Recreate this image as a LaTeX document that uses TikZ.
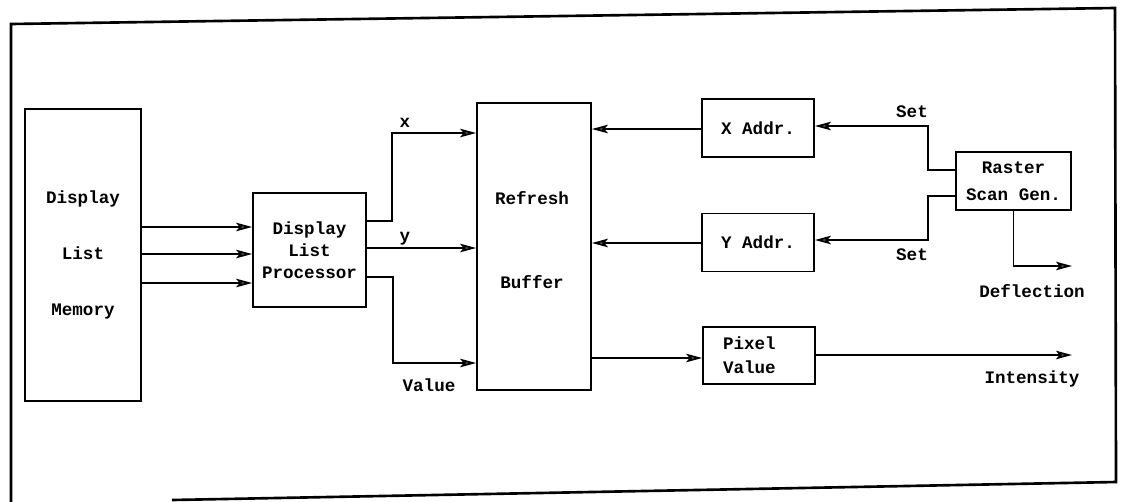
\documentclass[tikz,border=0pt]{standalone}
\usepackage{fontspec}
\setmainfont{Liberation Mono}
\usetikzlibrary{arrows.meta,positioning,calc}

\begin{document}
\begin{tikzpicture}[x=0.02cm, y=-0.02cm, line width=1pt,
    blk/.style={draw, inner sep=0pt, align=center, font=\bfseries\fontsize{10}{12}\selectfont},
    lbl/.style={inner sep=0pt, align=center, font=\bfseries\fontsize{10}{12}\selectfont},
    arr/.style={-{Stealth[length=3.2mm,width=1.7mm,inset=0.7mm,fill=black!60]}}]

    \useasboundingbox (0,0) rectangle (1128,501);

    % --- outer frame (the scan is a little tilted) ---
    \draw[line width=1.5pt] (11,506) -- (11,24) -- (1115,8) -- (1116,482) -- (172,500);

    % --- blocks ---
    \node[blk, minimum width=2.32cm, minimum height=5.84cm] (mem) at (83,255) {Display\\[20pt]List\\[20pt]Memory};
    \node[blk, minimum width=2.26cm, minimum height=2.28cm] (dlp) at (309.5,250) {Display\\[0.5pt]List\\[0.5pt]Processor};
    \node[blk, minimum width=2.28cm, minimum height=5.74cm] (rb) at (534,246.5) {};
    \node[lbl] (rbtxt) at (532,240) {Refresh\\[36pt]Buffer};
    \node[blk, minimum width=2.24cm, minimum height=1.16cm] (xa) at (758,128) {X Addr.};
    \node[blk, minimum width=2.24cm, minimum height=1.16cm] (ya) at (758,242.5) {Y Addr.};
    \node[blk, minimum width=2.24cm, minimum height=1.14cm, align=left, text width=1.44cm] (pv) at (759,355.5) {Pixel\\[1.5pt]Value};
    \node[blk, minimum width=2.3cm, minimum height=1.16cm] (rsg) at (1013.5,181) {Raster\\[3.5pt]Scan Gen.};

    % --- free ends ---
    \coordinate (defl) at (1072,266);
    \coordinate (inten) at (1072,355);

    % --- memory to processor ---
    \foreach \yy in {227,254,283}
        \draw[arr] (mem.east |- 0,\yy) -- (dlp.west |- 0,\yy);

    % --- processor to buffer ---
    \draw[arr] (dlp.east |- 0,221) -| (392,133) -- (rb.west |- 0,133);
    \draw[arr] (dlp.east |- 0,248) -- (rb.west |- 0,248);
    \draw[arr] (dlp.east |- 0,277) -| (393,363) -- (rb.west |- 0,363);

    % --- addresses and pixel value ---
    \draw[arr] (xa.west |- 0,129) -- (rb.east |- 0,129);
    \draw[arr] (ya.west |- 0,243) -- (rb.east |- 0,243);
    \draw[arr] (rb.east |- 0,358) -- (pv.west |- 0,358);

    % --- scan generator ---
    \draw[arr] (rsg.west |- 0,170) -| (928,126) -- (xa.east |- 0,126);
    \draw[arr] (rsg.west |- 0,196) -| (928,240) -- (ya.east |- 0,240);
    \draw[arr] (rsg.south) |- (defl);
    \draw[arr] (pv.east |- inten) -- (inten);

    % --- labels ---
    \node[lbl] (lx) at (405,123) {x};
    \node[lbl] (ly) at (405,239) {y};
    \node[lbl] (lval) at (429,385) {Value};
    \node[lbl] (lset1) at (912,112) {Set};
    \node[lbl] (lset2) at (912,255) {Set};
    \node[lbl] (ldefl) at (1032,291) {Deflection};
    \node[lbl] (lint) at (1032,379) {Intensity};

\end{tikzpicture}
\end{document}
